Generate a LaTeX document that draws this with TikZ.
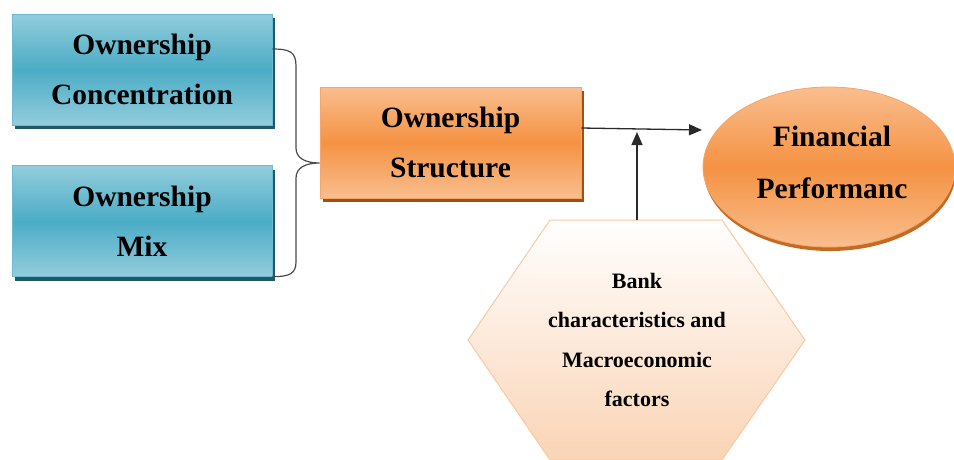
\documentclass[tikz,border=0pt]{standalone}
\usepackage{fontspec}
\setmainfont{Liberation Serif}
\usetikzlibrary{shadows,arrows.meta,calc,shapes.geometric}
\definecolor{blueLight}{HTML}{93CDDC}
\definecolor{blueMid}{HTML}{4BACC6}
\definecolor{blueBorder}{HTML}{6CBBD1}
\definecolor{blueShadow}{HTML}{215968}
\definecolor{orLight}{HTML}{F9BE8E}
\definecolor{orMid}{HTML}{F59243}
\definecolor{orBorder}{HTML}{F6A66A}
\definecolor{orShadow}{HTML}{A0500F}
\definecolor{ellShadow}{HTML}{C46A22}
\definecolor{hexBorder}{HTML}{F9C9A2}
\definecolor{hexBottom}{HTML}{FAD4B5}
\definecolor{lineCol}{HTML}{2A2A2A}
\begin{document}
\begin{tikzpicture}[x=1pt,y=-1pt,
  bigtext/.style={font=\bfseries\fontsize{29.5}{50}\selectfont, align=center, text=black},
  bluebox/.style={bigtext, rectangle, minimum width=260pt, minimum height=111pt, inner sep=0pt,
     draw=blueBorder, line width=0.8pt, top color=blueLight, bottom color=blueLight, middle color=blueMid,
     drop shadow={shadow xshift=3pt, shadow yshift=-4pt, fill=blueShadow, opacity=1}},
  orbox/.style={bigtext, rectangle, minimum width=261pt, minimum height=111pt, inner sep=0pt,
     draw=orBorder, line width=0.8pt, top color=orLight, bottom color=orLight, middle color=orMid,
     drop shadow={shadow xshift=3pt, shadow yshift=-4pt, fill=orShadow, opacity=1}},
  orell/.style={ellipse, minimum width=252pt, minimum height=160pt, inner sep=0pt,
     draw=orBorder, line width=0.8pt, top color=orLight, bottom color=orLight, middle color=orMid,
     drop shadow={shadow xshift=1pt, shadow yshift=-4pt, fill=ellShadow, opacity=1}},
  hexshape/.style={draw=hexBorder, line width=1pt, top color=white, bottom color=hexBottom},
  hextext/.style={font=\bfseries\fontsize{22}{39.5}\selectfont, align=center, text=black},
  conn/.style={draw=lineCol, line width=1.3pt},
  arr/.style={conn, -{Triangle[length=13pt,width=11pt]}},
  brace/.style={draw=lineCol!85, line width=1.2pt}
]
\useasboundingbox (0,0) rectangle (954,459);

% boxes
\node[bluebox] (oc) at (142,69.5) {Ownership\\Concentration};
\node[bluebox] (om) at (142,221) {Ownership\\Mix};
\node[orbox] (os) at (450.5,142.5) {Ownership\\Structure};
\node[orell] (fp) at (829,167) {};
\node[bigtext, font=\bfseries\fontsize{29.5}{52}\selectfont] (fpt) at (832,162) {Financial\\Performanc};

% hexagon
\path[hexshape] (550,220) -- (722,220) -- (805,340) -- (722,460) -- (550,460) -- (468,340) -- cycle;
\coordinate (hextop) at (637,220);
\node[hextext] (hx) at (637,340) {Bank\\characteristics and\\Macroeconomic\\factors};

% brace
\coordinate (b1) at ($(oc.east)+(0,-20.5)$);
\coordinate (b2) at ($(om.east)+(0,55.5)$);
\coordinate (bt) at ($(os.west)+(0,20.5)$);
\draw[brace] (b1) .. controls (290,49) and (296,52) .. (296,66) -- (296,148)
  .. controls (296,158) and (305,163) .. (bt)
  .. controls (305,163) and (296,168) .. (296,178) -- (296,262)
  .. controls (296,273) and (290,277) .. (b2);

% arrows
\coordinate (start) at ($(os.east)+(0,-14.5)$);
\coordinate (tip) at (702,130);
\coordinate (join) at (637,132);
\draw[arr] (start) -- (tip);
\draw[arr] (hextop) -- (join);
\end{tikzpicture}
\end{document}
